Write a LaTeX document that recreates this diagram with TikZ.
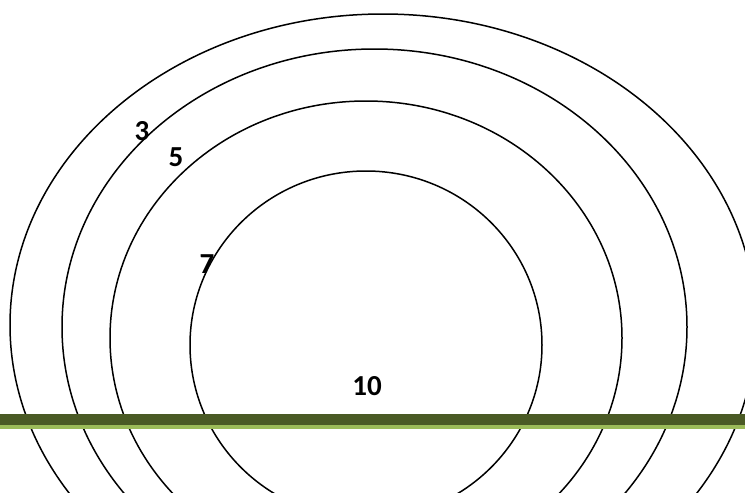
\documentclass[tikz,border=0pt]{standalone}
\usepackage{fontspec}
\setmainfont{Carlito}
\definecolor{bardark}{HTML}{4A5A25}
\definecolor{barlight}{HTML}{9BBB59}
\tikzset{
  ring/.style={draw=black, line width=1.5pt},
  lbl/.style={inner sep=0pt, font=\fontsize{29}{29}\selectfont\bfseries}
}
\begin{document}
\begin{tikzpicture}[x=1pt,y=-1pt]
\useasboundingbox (0,0) rectangle (745,493);
\begin{scope}
\clip (0,0) rectangle (745,493);
\draw[ring] (383,325) ellipse [x radius=373, y radius=311];
\draw[ring] (374.5,327) ellipse [x radius=312.5, y radius=278];
\draw[ring] (366,338) ellipse [x radius=256, y radius=237];
\draw[ring] (366,345) ellipse [x radius=176, y radius=174];
\fill[bardark] (0,414) rectangle (745,425);
\fill[barlight] (0,425) rectangle (745,429);
\end{scope}
\node[lbl] (l3) at (142,131) {3};
\node[lbl] (l5) at (176,157) {5};
\node[lbl] (l7) at (207,264) {7};
\node[lbl] (l10) at (367,386) {10};
\end{tikzpicture}
\end{document}
